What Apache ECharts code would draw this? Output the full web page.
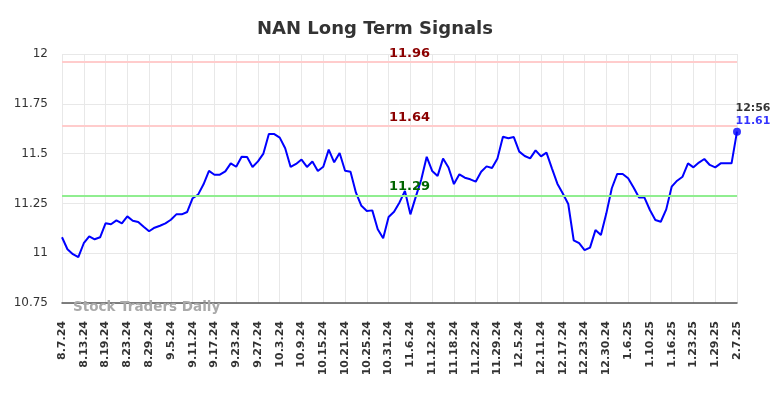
<!DOCTYPE html>
<html>
<head>
<meta charset="utf-8">
<script src="https://cdn.jsdelivr.net/npm/echarts@6/dist/echarts.min.js"></script>
<style>
  html, body { margin:0; padding:0; background:#fff; }
  #chart { width:784px; height:398px; }
</style>
</head>
<body>
<div id="chart"></div>
<script>
// tick labels, one every 4th point
const tickLabels = ['8.7.24','8.13.24','8.19.24','8.23.24','8.29.24','9.5.24','9.11.24','9.17.24',
  '9.23.24','9.27.24','10.3.24','10.9.24','10.15.24','10.21.24','10.25.24','10.31.24','11.6.24',
  '11.12.24','11.18.24','11.22.24','11.29.24','12.5.24','12.11.24','12.17.24','12.23.24','12.30.24',
  '1.6.25','1.10.25','1.16.25','1.23.25','1.29.25','2.7.25'];

const prices = [
  11.08, 11.02, 10.995, 10.98, 11.05, 11.085, 11.07, 11.08, 11.15, 11.145,
  11.165, 11.15, 11.185, 11.163, 11.157, 11.133, 11.11, 11.128, 11.138, 11.15,
  11.168, 11.195, 11.195, 11.207, 11.276, 11.294, 11.346, 11.413, 11.394, 11.394,
  11.411, 11.451, 11.434, 11.484, 11.483, 11.433, 11.461, 11.50, 11.598, 11.598,
  11.58, 11.527, 11.433, 11.448, 11.47, 11.433, 11.46, 11.413, 11.434, 11.52,
  11.456, 11.503, 11.414, 11.409, 11.304, 11.238, 11.212, 11.215, 11.12, 11.075,
  11.182, 11.208, 11.255, 11.312, 11.195, 11.284, 11.37, 11.484, 11.413, 11.388,
  11.475, 11.43, 11.347, 11.396, 11.379, 11.371, 11.359, 11.409, 11.436, 11.428,
  11.476, 11.585, 11.577, 11.583, 11.51, 11.488, 11.476, 11.516, 11.486, 11.505,
  11.426, 11.349, 11.30, 11.247, 11.065, 11.05, 11.015, 11.028, 11.116, 11.091,
  11.20, 11.326, 11.398, 11.398, 11.376, 11.33, 11.28, 11.279, 11.217, 11.167,
  11.158, 11.22, 11.334, 11.364, 11.384, 11.451, 11.431, 11.455, 11.473, 11.443,
  11.431, 11.451, 11.451, 11.451, 11.61
];

const resistHigh = 11.96;
const resistLow = 11.64;
const support = 11.29;
const lastTime = '12:56';

const idx = prices.map((_, i) => i);
const lastIdx = prices.length - 1;

const chart = echarts.init(document.getElementById('chart'), null, { renderer:'canvas' });
const font = 'DejaVu Sans';

function levelLine(v, lineCol, textCol) {
  return {
    yAxis: v,
    lineStyle: { color: lineCol, width: 2, type: 'solid' },
    label: { show: true, position: 'insideMiddleTop', formatter: String(v), color: textCol,
             fontFamily: font, fontWeight: 'bold', fontSize: 13, distance: 2, offset: [10, 0] }
  };
}

chart.setOption({
  backgroundColor: '#fff',
  animation: false,
  title: [
    { text: 'NAN Long Term Signals', left: 252, top: 15,
      textStyle: { fontFamily: font, fontSize: 18, fontWeight: 'bold', color: '#333' } },
    { text: 'Stock Traders Daily', left: 68, top: 295,
      textStyle: { fontFamily: font, fontSize: 13.5, fontWeight: 'bold', color: '#aaa' } }
  ],
  grid: { left: 62, right: 47, top: 54, bottom: 95 },
  xAxis: {
    type: 'category', data: idx, boundaryGap: false,
    axisLine: { show: true, lineStyle: { color: '#555', width: 1.5 } },
    axisTick: { show: false },
    axisLabel: { interval: 3, rotate: 90, margin: 18, color: '#333', fontFamily: font,
                 fontSize: 11, fontWeight: 'bold',
                 formatter: (v, i) => tickLabels[i / 4] || '' },
    splitLine: { show: true, interval: 3, lineStyle: { color: '#e8e8e8', width: 1 } }
  },
  yAxis: {
    type: 'value', min: 10.75, max: 12, interval: 0.25,
    axisLine: { show: false }, axisTick: { show: false },
    axisLabel: { color: '#333', fontFamily: font, fontSize: 12, margin: 14 },
    splitLine: { show: true, lineStyle: { color: '#e8e8e8', width: 1 } }
  },
  series: [
    { type: 'line', data: prices, showSymbol: false, smooth: false,
      lineStyle: { color: '#0000ff', width: 2 }, z: 3,
      markLine: {
        silent: true, symbol: 'none', animation: false,
        data: [
          levelLine(resistHigh, '#ffcccc', '#8b0000'),
          levelLine(resistLow, '#ffcccc', '#8b0000'),
          levelLine(support, '#90ee90', '#006400')
        ]
      }
    },
    { type: 'scatter', data: [[lastIdx, prices[lastIdx]]], symbolSize: 8,
      itemStyle: { color: '#0000ff' }, z: 4,
      label: { show: true, position: 'top', distance: 0, offset: [16, 0],
        formatter: () => '{t|' + lastTime + '}\n{v|' + prices[lastIdx].toFixed(2) + '}',
        rich: {
          t: { color: '#000', fontFamily: font, fontWeight: 'bold', fontSize: 11, lineHeight: 13 },
          v: { color: '#0000ff', fontFamily: font, fontWeight: 'bold', fontSize: 11, lineHeight: 13 }
        }
      }
    }
  ]
});
</script>
</body>
</html>
